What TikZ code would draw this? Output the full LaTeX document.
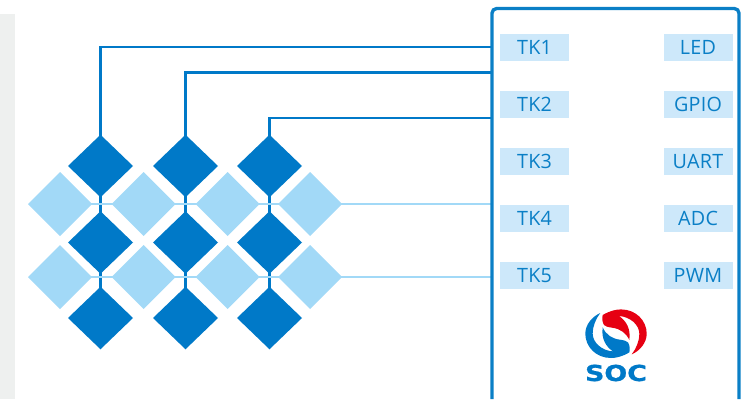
\documentclass[tikz,border=0pt]{standalone}
\usepackage{fontspec}
\setmainfont[LetterSpace=1.5]{Open Sans}
\newfontfamily\logofont[UprightFont=* Bold,FakeBold=0.8]{DejaVu Sans}
\usetikzlibrary{shapes.geometric}
\definecolor{darkblue}{HTML}{0079C8}
\definecolor{lightblue}{HTML}{A2D9F7}
\definecolor{chipblue}{HTML}{0A7FC6}
\definecolor{labelfill}{HTML}{CDE8FA}
\definecolor{strip}{HTML}{EEF0EF}
\definecolor{logored}{HTML}{E60012}
\newcommand{\swirlpath}{(-13.3,-18.7) .. controls (-6,-23) and (0,-24.3) .. (5,-24.3) .. controls (20,-24.3) and (30.7,-13) .. (30.7,0) .. controls (30.7,9) and (24,17) .. (15.7,20.7) .. controls (20,15) and (23.3,8) .. (23.3,0) .. controls (23.3,-9) and (14,-17) .. (3,-17.7) .. controls (10,-13) and (15,-5) .. (13.3,6.3) .. controls (10,-1) and (4,-5) .. (-4,-6) .. controls (-8,-6.5) and (-11,-7.5) .. (-12,-8.7) .. controls (-14,-12) and (-14,-16) .. (-13.3,-18.7) -- cycle}
\tikzset{
  darkdia/.style={diamond,fill=darkblue,draw=none,inner sep=0pt,outer sep=0pt,minimum width=48.75pt,minimum height=46.9pt},
  lightdia/.style={diamond,fill=lightblue,draw=none,inner sep=0pt,outer sep=0pt,minimum width=48pt,minimum height=48pt},
  pinlabel/.style={fill=labelfill,text=chipblue,inner sep=0pt,outer sep=0pt,minimum width=51.75pt,minimum height=20.25pt,font=\fontsize{14.8pt}{16pt}\selectfont,text height=10.6pt,text depth=0pt},
  darkwire/.style={draw=darkblue,line width=1.7pt},
  lightwire/.style={draw=lightblue,line width=1.3pt},
  chipline/.style={draw=chipblue,line width=2.5pt,rounded corners=3.5pt}
}
\begin{document}
\begin{tikzpicture}[x=0.75pt,y=-0.75pt]
\useasboundingbox (0,0) rectangle (755,399);
\fill[strip] (0,14) rectangle (14.7,399);
% chip anchors
\coordinate (chipbl) at (492,399);
\coordinate (chiptr) at (739,8.5);
\coordinate (chipbr) at (739,399);
\coordinate (e1) at (492,47);
\coordinate (e2) at (492,72.5);
\coordinate (e3) at (492,118);
\coordinate (e4) at (492,204);
\coordinate (e5) at (492,277);
% wire ends at the bottom row and first column of diamonds
\coordinate (b1) at (100.5,318);
\coordinate (b2) at (185.5,318);
\coordinate (b3) at (269.5,318);
\coordinate (l1) at (60,204);
\coordinate (l2) at (60,277);
% wires
\draw[darkwire] (b1) |- (e1);
\draw[darkwire] (b2) |- (e2);
\draw[darkwire] (b3) |- (e3);
\draw[lightwire] (l1) -- (e4);
\draw[lightwire] (l2) -- (e5);
% dark diamonds
\foreach \c/\x in {1/100.5,2/185.5,3/269.5}{
  \foreach \r/\y in {1/166,2/242.5,3/318}{
    \node[darkdia] (d\r\c) at (\x,\y) {};
  }
}
% light diamonds
\foreach \c/\x in {1/60,2/143.7,3/227.5,4/310}{
  \foreach \r/\y in {1/204,2/277}{
    \node[lightdia] (s\r\c) at (\x,\y) {};
  }
}
% chip
\draw[chipline] (chipbl) |- (chiptr) -- (chipbr);
% labels
\foreach \n/\y/\t in {a/47.5/TK1,b/104.5/TK2,c/161.5/TK3,d/218.5/TK4,e/275.5/TK5}{
  \node[pinlabel] (pin\n) at (534.5,\y) {\t};
}
\foreach \n/\y/\t in {a/47.5/LED,b/104.5/GPIO,c/161.5/UART,d/218.5/ADC,e/275.5/PWM}{
  \node[pinlabel] (sig\n) at (698,\y) {\t};
}
% logo
\begin{scope}[shift={(616,333.7)}]
  \fill[logored] \swirlpath;
  \begin{scope}[rotate=180]
    \fill[darkblue] \swirlpath;
  \end{scope}
\end{scope}
\node[inner sep=0pt,text=darkblue,font=\logofont\fontsize{16.5pt}{18pt}\selectfont,text height=12pt,text depth=0pt] (soc) at (616,373) {\scalebox{1.22}[1]{SOC}};
\end{tikzpicture}
\end{document}
